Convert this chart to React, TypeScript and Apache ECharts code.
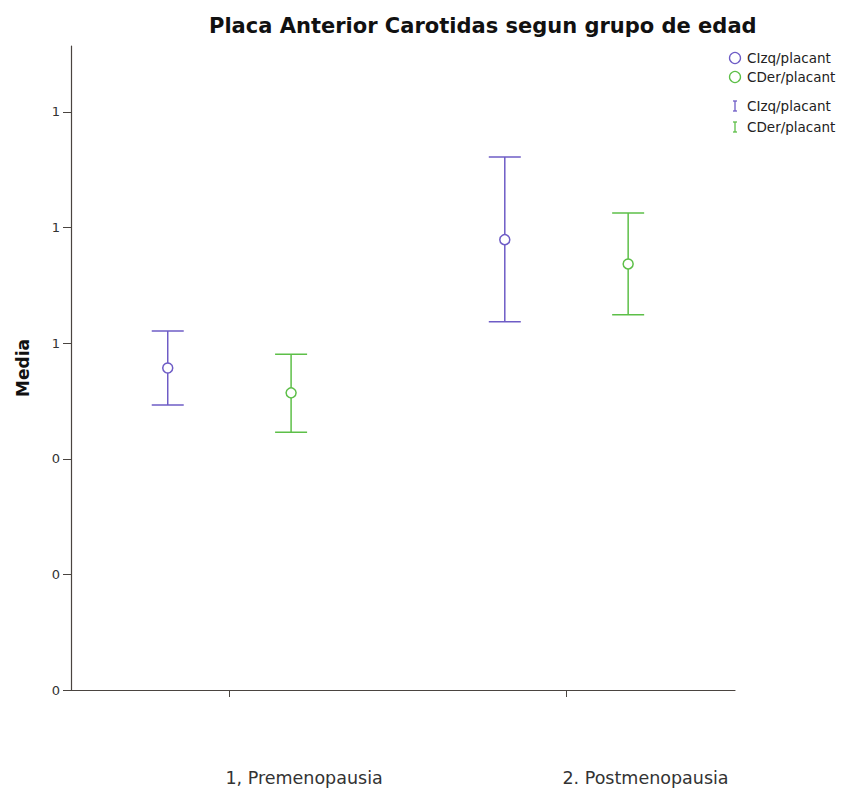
import React, { useEffect, useRef } from "react";
import * as echarts from "echarts";

const categories = ["1, Premenopausia", "2. Postmenopausia"];
const izqMean = [0.557, 0.779];
const izqLow = [0.493, 0.637];
const izqHigh = [0.621, 0.922];
const derMean = [0.514, 0.737];
const derLow = [0.446, 0.649];
const derHigh = [0.581, 0.825];
const yTickValues = [0, 0.2, 0.4, 0.6, 0.8, 1.0];
const yTickLabels = ["0", "0", "0", "1", "1", "1"];
const xTickValues = [1, 2];
const seriesNames = ["CIzq/placant", "CDer/placant"];

const PURPLE = "#6e5cc6";
const GREEN = "#5dbf48";
const OFFSET = 0.183;

function makeRender(color: string) {
  return (params: any, api: any) => {
    const x = api.value(0);
    const mean = api.coord([x, api.value(1)]);
    const lo = api.coord([x, api.value(2)]);
    const hi = api.coord([x, api.value(3)]);
    const hw = 16;
    const r = 5;
    const style = { stroke: color, lineWidth: 1.5, fill: "none" };
    return {
      type: "group",
      children: [
        { type: "line", shape: { x1: hi[0], y1: hi[1], x2: hi[0], y2: mean[1] - r }, style },
        { type: "line", shape: { x1: lo[0], y1: mean[1] + r, x2: lo[0], y2: lo[1] }, style },
        { type: "line", shape: { x1: hi[0] - hw, y1: hi[1], x2: hi[0] + hw, y2: hi[1] }, style },
        { type: "line", shape: { x1: lo[0] - hw, y1: lo[1], x2: lo[0] + hw, y2: lo[1] }, style },
        { type: "circle", shape: { cx: mean[0], cy: mean[1], r }, style },
      ],
    };
  };
}

export default function App() {
  const ref = useRef<HTMLDivElement>(null);
  useEffect(() => {
    if (!ref.current) return;
    const chart = echarts.init(ref.current, null, { renderer: "svg" });
    const izqData = izqMean.map((m, i) => [i + 1 - OFFSET, m, izqLow[i], izqHigh[i]]);
    const derData = derMean.map((m, i) => [i + 1 + OFFSET, m, derLow[i], derHigh[i]]);
    const axisColor = "#4a4440";
    const font = '"DejaVu Sans", Verdana, sans-serif';
    const legendText = (y: number, t: string) => ({
      type: "text",
      x: 747,
      y,
      style: { text: t, fontFamily: font, fontSize: 13.5, fill: "#222", verticalAlign: "middle" },
    });
    const ibar = (y: number, color: string) => [
      { type: "line", shape: { x1: 735, y1: y - 5, x2: 735, y2: y + 5 }, style: { stroke: color, lineWidth: 1.3 } },
      { type: "line", shape: { x1: 733, y1: y - 5, x2: 737, y2: y - 5 }, style: { stroke: color, lineWidth: 1.3 } },
      { type: "line", shape: { x1: 733, y1: y + 5, x2: 737, y2: y + 5 }, style: { stroke: color, lineWidth: 1.3 } },
    ];
    chart.setOption({
      animation: false,
      backgroundColor: "#ffffff",
      title: {
        text: "Placa Anterior Carotidas segun grupo de edad",
        left: 204,
        top: 10,
        textStyle: {
          fontFamily: font,
          fontSize: 21,
          fontWeight: "bold",
          color: "#111",
        },
      },
      grid: { left: 71, right: 129, top: 46, bottom: 109 },
      xAxis: {
        type: "value",
        min: 0.53,
        max: 2.5,
        splitLine: { show: false },
        axisLine: { lineStyle: { color: axisColor, width: 1.2 } },
        axisTick: {
          show: true,
          length: 7,
          customValues: xTickValues,
          lineStyle: { color: axisColor },
        },
        axisLabel: {
          customValues: xTickValues,
          formatter: (v: number) => categories[Math.round(v) - 1] ?? "",
          align: "left",
          margin: 79,
          padding: [0, 0, 0, -4],
          fontFamily: font,
          fontSize: 17.5,
          color: "#333",
        },
      },
      yAxis: {
        type: "value",
        min: 0,
        max: 1.114,
        name: "Media",
        nameLocation: "middle",
        nameGap: 40,
        nameTextStyle: {
          fontFamily: font,
          fontSize: 17,
          fontWeight: "bold",
          color: "#111",
        },
        splitLine: { show: false },
        axisLine: { show: true, lineStyle: { color: axisColor, width: 1.2 } },
        axisTick: {
          show: true,
          length: 8,
          customValues: yTickValues,
          lineStyle: { color: axisColor },
        },
        axisLabel: {
          customValues: yTickValues,
          formatter: (v: number) => {
            const i = yTickValues.findIndex((t) => Math.abs(t - v) < 1e-6);
            return i >= 0 ? yTickLabels[i] : "";
          },
          margin: 11,
          fontFamily: font,
          fontSize: 13,
          color: "#333",
        },
      },
      series: [
        {
          name: seriesNames[0],
          type: "custom",
          renderItem: makeRender(PURPLE),
          data: izqData,
          encode: { x: 0, y: [1, 2, 3] },
        },
        {
          name: seriesNames[1],
          type: "custom",
          renderItem: makeRender(GREEN),
          data: derData,
          encode: { x: 0, y: [1, 2, 3] },
        },
      ],
      graphic: [
        { type: "circle", shape: { cx: 735, cy: 58, r: 5.5 }, style: { stroke: PURPLE, fill: "none", lineWidth: 1.3 } },
        { type: "circle", shape: { cx: 735, cy: 77, r: 5.5 }, style: { stroke: GREEN, fill: "none", lineWidth: 1.3 } },
        ...ibar(106, PURPLE),
        ...ibar(127, GREEN),
        legendText(58, seriesNames[0]),
        legendText(77, seriesNames[1]),
        legendText(106, seriesNames[0]),
        legendText(127, seriesNames[1]),
      ],
    });
    return () => chart.dispose();
  }, []);
  return (
    <div
      ref={ref}
      style={{ position: "absolute", left: 0, top: 0, width: 864, height: 799 }}
    />
  );
}
